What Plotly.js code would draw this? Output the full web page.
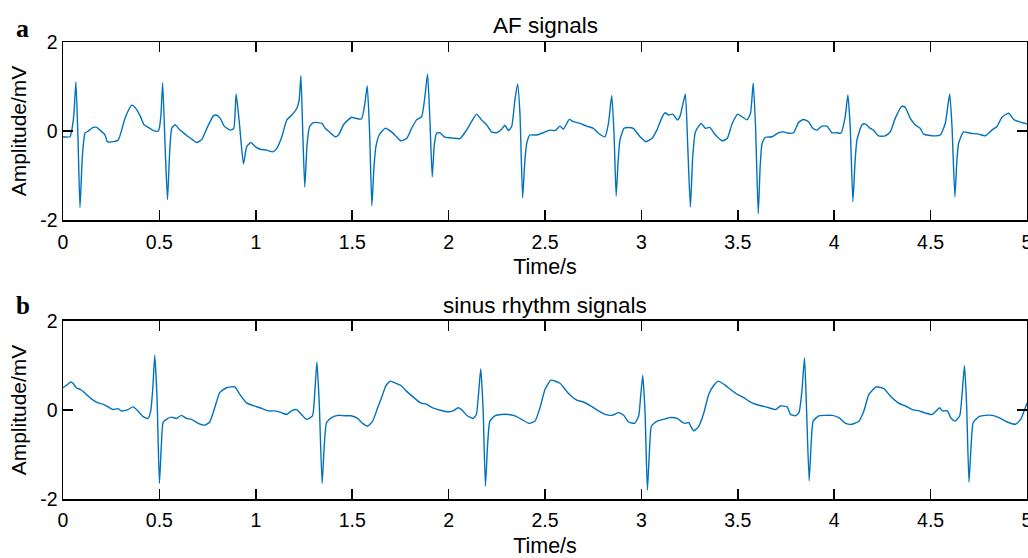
<!DOCTYPE html>
<html>
<head>
<meta charset="utf-8">
<script src="https://cdn.plot.ly/plotly-3.0.1.min.js"></script>
<style>html,body{margin:0;padding:0;background:#fff;}#chart{width:1028px;height:558px;}</style>
</head>
<body>
<div id="chart"></div>
<script>
// ---- AF signal (panel a) ----
var afTime = [
  0, 0.036, 0.055, 0.067, 0.078, 0.088, 0.100, 0.114, 0.131, 0.157, 0.175, 0.192, 0.218, 0.230, 0.261, 0.287, 0.322, 0.356, 0.374, 0.400, 0.420, 0.443, 0.469, 0.495,
  0.507, 0.517, 0.530, 0.542, 0.553, 0.564, 0.581, 0.607, 0.633, 0.650, 0.673, 0.694, 0.720, 0.746, 0.780, 0.794, 0.815, 0.836, 0.867, 0.885,
  0.898, 0.915, 0.936, 0.953, 0.974, 0.997, 1.022, 1.057, 1.088, 1.109, 1.135, 1.161, 1.187, 1.213, 1.225,
  1.234, 1.244, 1.254, 1.266, 1.279, 1.299, 1.343, 1.360, 1.386, 1.412, 1.429, 1.455, 1.479, 1.497, 1.514, 1.548, 1.566,
  1.578, 1.590, 1.602, 1.613, 1.623, 1.640, 1.670, 1.704, 1.730, 1.751, 1.782, 1.808, 1.834, 1.860, 1.877,
  1.891, 1.903, 1.915, 1.926, 1.938, 1.955, 1.981, 2.024, 2.059, 2.093, 2.119, 2.145, 2.171, 2.197, 2.223, 2.249, 2.275, 2.292, 2.310, 2.327, 2.344,
  2.358, 2.370, 2.384, 2.395, 2.405, 2.422, 2.457, 2.491, 2.526, 2.552, 2.578, 2.595, 2.626, 2.647, 2.682, 2.716, 2.751, 2.777, 2.811, 2.829,
  2.846, 2.858, 2.869, 2.879, 2.889, 2.910, 2.933, 2.958, 2.993, 3.024, 3.054, 3.080, 3.105, 3.123, 3.140, 3.163, 3.187, 3.201, 3.215,
  3.228, 3.240, 3.254, 3.266, 3.280, 3.310, 3.332, 3.355, 3.375, 3.393, 3.419, 3.445, 3.471, 3.500, 3.522, 3.548, 3.566,
  3.580, 3.592, 3.606, 3.616, 3.626, 3.643, 3.678, 3.711, 3.737, 3.763, 3.789, 3.815, 3.841, 3.867, 3.889, 3.910, 3.936, 3.962, 3.988, 4.014, 4.035, 4.057,
  4.071, 4.083, 4.097, 4.108, 4.118, 4.144, 4.161, 4.187, 4.204, 4.230, 4.265, 4.291, 4.317, 4.351, 4.369, 4.394, 4.420, 4.446, 4.464, 4.516, 4.550, 4.576,
  4.599, 4.611, 4.626, 4.636, 4.645, 4.671, 4.706, 4.749, 4.784, 4.818, 4.844, 4.870, 4.905, 4.931, 4.957, 5.0
];
var afAmp = [
  -0.13, -0.13, 0.30, 1.10, -0.20, -1.72, -0.60, -0.05, 0.00, 0.08, 0.08, 0.02, -0.09, -0.24, -0.24, -0.20, 0.29, 0.58, 0.53, 0.34, 0.14, 0.08, 0.01, 0.00,
  0.30, 1.08, -0.40, -1.54, -0.50, 0.06, 0.14, 0.02, -0.07, -0.13, -0.20, -0.26, -0.19, 0.06, 0.34, 0.36, 0.29, 0.11, 0.02, 0.05,
  0.83, 0.17, -0.74, -0.35, -0.26, -0.35, -0.41, -0.43, -0.47, -0.39, -0.13, 0.25, 0.36, 0.51, 0.70,
  1.24, -0.10, -1.26, -0.30, 0.10, 0.19, 0.17, 0.06, -0.04, -0.13, -0.09, 0.14, 0.25, 0.31, 0.29, 0.27, 0.62,
  1.02, 0.00, -1.68, -0.80, -0.35, -0.09, 0.06, -0.02, -0.13, -0.22, -0.17, 0.06, 0.25, 0.32, 0.77,
  1.28, 0.25, -1.03, -0.30, -0.05, -0.04, -0.14, -0.16, -0.17, 0.02, 0.21, 0.38, 0.25, 0.14, -0.02, -0.04, 0.04, 0.13, 0.01, 0.10, 0.70,
  1.06, 0.40, -1.50, -0.70, -0.28, -0.09, -0.09, -0.04, 0.02, 0.01, 0.11, 0.04, 0.26, 0.21, 0.17, 0.11, 0.06, -0.05, -0.13, 0.17,
  0.80, -0.05, -1.46, -0.70, -0.20, 0.06, 0.08, 0.06, -0.13, -0.24, -0.17, 0.02, 0.29, 0.41, 0.36, 0.38, 0.25, 0.34, 0.60,
  0.83, -0.30, -1.71, -0.60, -0.02, 0.17, 0.06, 0.08, -0.04, -0.13, -0.22, -0.17, 0.17, 0.38, 0.32, 0.25, 0.40,
  1.08, 0.10, -1.86, -0.80, -0.28, -0.14, -0.13, -0.04, -0.02, -0.05, -0.04, 0.19, 0.26, 0.21, 0.06, 0.02, 0.11, 0.11, -0.04, -0.04, -0.05, 0.32,
  0.81, 0.10, -1.59, -0.70, -0.20, 0.14, 0.16, 0.06, 0.02, -0.11, -0.11, -0.02, 0.29, 0.56, 0.53, 0.29, 0.14, 0.06, -0.07, -0.11, -0.09, 0.17,
  0.83, 0.10, -1.48, -0.70, -0.28, -0.02, -0.05, -0.07, -0.11, 0.02, 0.10, 0.31, 0.40, 0.26, 0.21, 0.16
];

// ---- Sinus rhythm signal (panel b) ----
var srTime = [
  0, 0.017, 0.040, 0.052, 0.069, 0.095, 0.121, 0.147, 0.182, 0.208, 0.234, 0.260, 0.285, 0.303, 0.337, 0.363, 0.389, 0.415, 0.441, 0.455, 0.466,
  0.476, 0.488, 0.500, 0.510, 0.519, 0.536, 0.562, 0.588, 0.614, 0.640, 0.666, 0.701, 0.735, 0.761, 0.787, 0.813, 0.848, 0.891, 0.917, 0.952, 0.986, 1.021, 1.064, 1.099, 1.133, 1.159, 1.185, 1.211, 1.237, 1.263, 1.294, 1.306,
  1.317, 1.329, 1.344, 1.355, 1.367, 1.393, 1.427, 1.460, 1.493, 1.528, 1.554, 1.580, 1.606, 1.632, 1.658, 1.675, 1.698, 1.727, 1.753, 1.780, 1.814, 1.854, 1.884, 1.918, 1.962, 1.997, 2.023, 2.049, 2.069, 2.097, 2.127, 2.144, 2.156,
  2.167, 2.179, 2.191, 2.202, 2.214, 2.240, 2.274, 2.309, 2.344, 2.378, 2.417, 2.448, 2.474, 2.500, 2.531, 2.578, 2.622, 2.665, 2.700, 2.734, 2.778, 2.813, 2.847, 2.882, 2.908, 2.934, 2.965, 2.986, 2.996,
  3.007, 3.019, 3.031, 3.042, 3.052, 3.082, 3.116, 3.151, 3.186, 3.211, 3.229, 3.246, 3.255, 3.272, 3.298, 3.324, 3.349, 3.375, 3.398, 3.427, 3.462, 3.498, 3.531, 3.557, 3.592, 3.626, 3.661, 3.696, 3.721, 3.756, 3.773, 3.799, 3.817, 3.832,
  3.846, 3.856, 3.870, 3.880, 3.891, 3.920, 3.955, 3.990, 4.024, 4.059, 4.093, 4.128, 4.154, 4.180, 4.218, 4.258, 4.292, 4.336, 4.370, 4.405, 4.439, 4.474, 4.509, 4.529, 4.547, 4.561, 4.587, 4.604, 4.626, 4.651, 4.664,
  4.676, 4.687, 4.699, 4.710, 4.721, 4.751, 4.785, 4.820, 4.855, 4.898, 4.941, 4.967, 5.0
];
var srAmp = [
  0.50, 0.55, 0.63, 0.60, 0.50, 0.45, 0.35, 0.25, 0.16, 0.13, 0.07, 0.01, 0.03, -0.02, 0.01, 0.07, -0.02, -0.15, -0.19, -0.02, 0.50,
  1.23, 0.24, -1.65, -0.80, -0.28, -0.21, -0.16, -0.19, -0.12, -0.19, -0.21, -0.30, -0.34, -0.27, 0.05, 0.39, 0.50, 0.52, 0.35, 0.16, 0.10, 0.05, -0.02, -0.02, -0.06, -0.10, -0.02, 0.01, -0.10, -0.21, -0.13, 0.40,
  1.08, 0.16, -1.65, -0.80, -0.28, -0.17, -0.12, -0.13, -0.13, -0.19, -0.30, -0.36, -0.25, 0.05, 0.35, 0.55, 0.65, 0.60, 0.55, 0.43, 0.30, 0.16, 0.13, 0.05, -0.01, -0.04, -0.02, 0.05, 0.00, -0.13, -0.19, -0.10, 0.40,
  0.93, 0.01, -1.71, -0.80, -0.25, -0.13, -0.10, -0.10, -0.13, -0.21, -0.30, -0.25, 0.05, 0.46, 0.67, 0.60, 0.37, 0.22, 0.18, 0.10, -0.02, -0.10, -0.12, -0.06, -0.12, -0.27, -0.30, -0.13, 0.30,
  0.78, -0.06, -1.80, -0.90, -0.36, -0.25, -0.21, -0.17, -0.19, -0.27, -0.30, -0.28, -0.36, -0.47, -0.36, -0.06, 0.35, 0.55, 0.65, 0.58, 0.46, 0.35, 0.28, 0.20, 0.13, 0.09, 0.05, 0.01, 0.09, 0.07, -0.10, -0.13, -0.06, 0.40,
  1.17, 0.09, -1.59, -0.80, -0.25, -0.13, -0.12, -0.12, -0.17, -0.30, -0.32, -0.25, -0.02, 0.35, 0.52, 0.48, 0.31, 0.15, 0.09, 0.01, -0.02, -0.07, -0.10, -0.02, 0.05, -0.02, -0.02, -0.17, -0.25, -0.13, 0.40,
  1.00, 0.09, -1.62, -0.80, -0.28, -0.15, -0.12, -0.12, -0.17, -0.27, -0.32, -0.21, 0.16
];

// ---- Text and ticks ----
var panelTitles = ['AF signals', 'sinus rhythm signals'];
var panelLetters = ['a', 'b'];
var xTitle = 'Time/s';
var yTitle = 'Amplitude/mV';
var xTickVals = [0, 0.5, 1, 1.5, 2, 2.5, 3, 3.5, 4, 4.5, 5];
var xTickText = ['0', '0.5', '1', '1.5', '2', '2.5', '3', '3.5', '4', '4.5', '5'];
var yTickVals = [-2, 0, 2];
var yTickText = ['-2', '0', '2'];

var lineColor = '#0072BD';
var txtFont = 'Liberation Sans, Arial, Helvetica, sans-serif';

var traces = [
  {x: afTime, y: afAmp, xaxis: 'x', yaxis: 'y', type: 'scatter', mode: 'lines',
   line: {color: lineColor, width: 1.4, shape: 'spline', smoothing: 0.5}, hoverinfo: 'skip'},
  {x: srTime, y: srAmp, xaxis: 'x2', yaxis: 'y2', type: 'scatter', mode: 'lines',
   line: {color: lineColor, width: 1.4, shape: 'spline', smoothing: 0.5}, hoverinfo: 'skip'}
];

function xAx(anchor, lblOff, ttlOff) {
  return {
    anchor: anchor, domain: [0, 1], range: [0, 5],
    tickmode: 'array', tickvals: xTickVals, ticktext: xTickText,
    ticks: 'inside', ticklen: 10, tickwidth: 1.5, tickcolor: '#000',
    showline: true, linecolor: '#000', linewidth: 1.5, mirror: 'ticks',
    showgrid: false, zeroline: false, ticklabeloverflow: 'allow',
    ticklabelstandoff: lblOff,
    tickfont: {family: txtFont, size: 19.5, color: '#000'},
    title: {text: xTitle, font: {family: txtFont, size: 21.5, color: '#000'}, standoff: ttlOff}
  };
}
function yAx(anchor, dom) {
  return {
    anchor: anchor, domain: dom, range: [-2, 2],
    tickmode: 'array', tickvals: yTickVals, ticktext: yTickText,
    ticks: 'inside', ticklen: 10, tickwidth: 1.5, tickcolor: '#000',
    showline: true, linecolor: '#000', linewidth: 1.5, mirror: 'ticks',
    showgrid: false, zeroline: false,
    tickfont: {family: txtFont, size: 19.5, color: '#000'},
    title: {text: yTitle, font: {family: txtFont, size: 21, color: '#000'}, standoff: 8}
  };
}

var layout = {
  width: 1028, height: 558,
  margin: {l: 63, r: 1, t: 42, b: 59, pad: 0},
  paper_bgcolor: '#fff', plot_bgcolor: '#fff',
  showlegend: false,
  xaxis: xAx('y', 4, 7),
  yaxis: yAx('x', [0.6105, 1]),
  xaxis2: xAx('y2', 3, 11),
  yaxis2: yAx('x2', [0, 0.3895]),
  annotations: [
    {text: panelTitles[0], xref: 'paper', yref: 'paper', x: 0.5, y: 1.037, xanchor: 'center', yanchor: 'middle', showarrow: false,
     font: {family: txtFont, size: 22.5, color: '#000'}},
    {text: panelTitles[1], xref: 'paper', yref: 'paper', x: 0.5, y: 0.4245, xanchor: 'center', yanchor: 'middle', showarrow: false,
     font: {family: txtFont, size: 22.5, color: '#000'}},
    {text: '<b>' + panelLetters[0] + '</b>', xref: 'paper', yref: 'paper', x: -0.0415, y: 1.030, xanchor: 'center', yanchor: 'middle', showarrow: false,
     font: {family: 'Liberation Serif, Times New Roman, serif', size: 26, color: '#000'}},
    {text: '<b>' + panelLetters[1] + '</b>', xref: 'paper', yref: 'paper', x: -0.0415, y: 0.4245, xanchor: 'center', yanchor: 'middle', showarrow: false,
     font: {family: 'Liberation Serif, Times New Roman, serif', size: 25, color: '#000'}}
  ]
};

Plotly.newPlot('chart', traces, layout, {displayModeBar: false, staticPlot: true});
</script>
</body>
</html>
